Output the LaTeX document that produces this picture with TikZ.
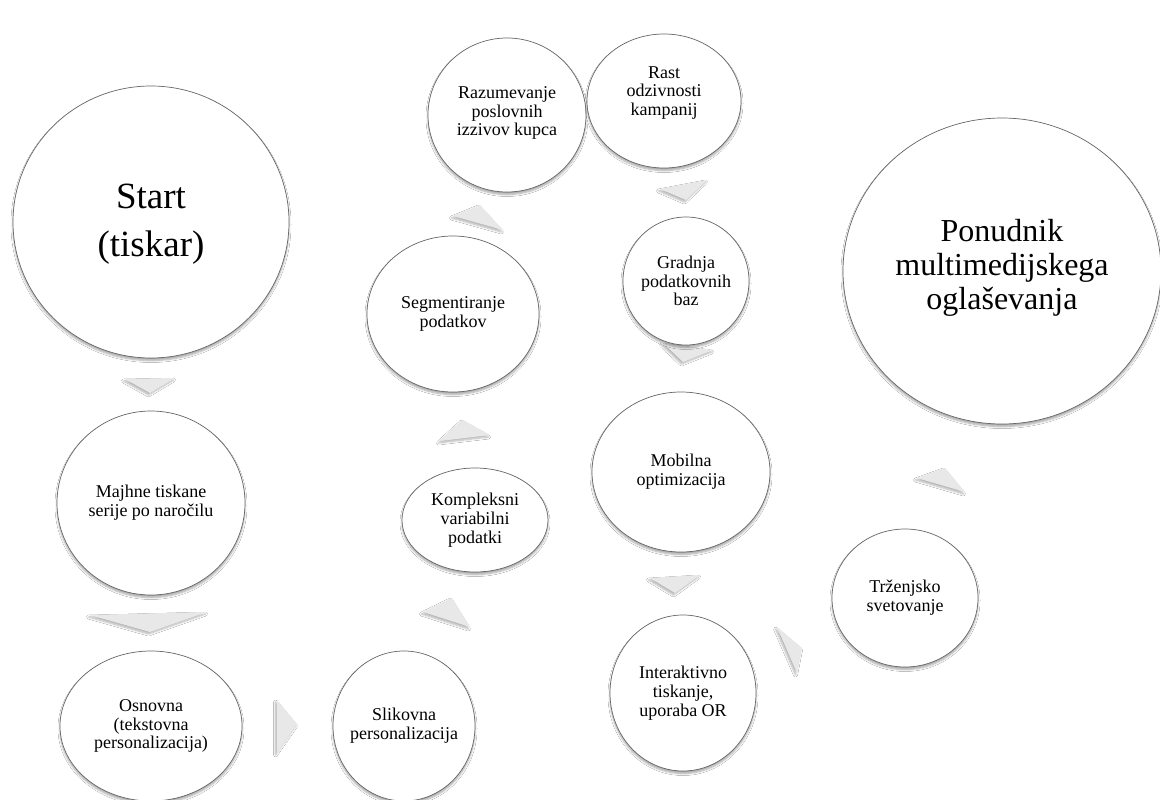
\documentclass[tikz,border=0pt]{standalone}
\usepackage{fontspec}
\setmainfont{Liberation Serif}
\newfontfamily\tnr{Liberation Serif}
\usetikzlibrary{shapes.geometric,shadows.blur}
\begin{document}
\begin{tikzpicture}[x=1pt,y=-1pt,
  bub/.style={ellipse, draw=black!60, line width=0.7pt, fill=white, inner sep=0pt,
    blur shadow={shadow xshift=0pt,shadow yshift=-2.5pt,shadow blur radius=2pt,shadow blur steps=6,shadow opacity=35}},
  txt/.style={align=center, inner sep=0pt, font=\tnr\fontsize{18}{18.8}\selectfont},
  bigtxt/.style={align=center, inner sep=0pt},
  tri/.style={fill=black!9, draw=none,
    blur shadow={shadow xshift=-1.5pt,shadow yshift=-2pt,shadow blur radius=2pt,shadow blur steps=6,shadow opacity=30}}]
\useasboundingbox (0,0) rectangle (1160,800);
\fill[white] (0,0) rectangle (1160,800);

% connectors (triangular arrows)
\fill[tri] (125,379) -- (175,378) -- (150,393) -- cycle;
\fill[tri] (90,615) -- (207,612) -- (150,632) -- cycle;
\fill[tri] (277,700) -- (297,724) -- (277,753) -- cycle;
\fill[tri] (423,612) -- (452,598) -- (470,627) -- cycle;
\fill[tri] (440,441) -- (463,420) -- (490,435) -- cycle;
\fill[tri] (453,216) -- (480,205) -- (503,230) -- cycle;
\fill[tri] (660,189) -- (707,180) -- (686,200) -- cycle;
\fill[tri] (663,343) -- (713,350) -- (683,362) -- cycle;
\fill[tri] (650,578) -- (700,575) -- (675,593) -- cycle;
\fill[tri] (777,627) -- (802,648) -- (797,673) -- cycle;
\fill[tri] (917,478) -- (945,468) -- (965,492) -- cycle;

% bubbles
\node[bub, minimum width=276, minimum height=272] (start) at (151,222) {};
\node[bub, minimum width=188, minimum height=184] (majhne) at (151,503) {};
\node[bub, minimum width=182, minimum height=150] (osnovna) at (151,726) {};
\node[bub, minimum width=142, minimum height=150] (slik) at (404,726) {};
\node[bub, minimum width=146, minimum height=104] (kompl) at (475,520) {};
\node[bub, minimum width=172, minimum height=156] (segm) at (453,314) {};
\node[bub, minimum width=158, minimum height=154] (razum) at (507,115) {};
\node[bub, minimum width=154, minimum height=134] (rast) at (664,101) {};
\node[bub, minimum width=126, minimum height=128] (gradnja) at (686,281) {};
\node[bub, minimum width=178, minimum height=160] (mobilna) at (681,472) {};
\node[bub, minimum width=146, minimum height=156] (inter) at (683,693) {};
\node[bub, minimum width=146, minimum height=138] (trzenje) at (905,598) {};
\node[bub, minimum width=318, minimum height=306] (ponud) at (1002,271) {};

% texts
\node[bigtxt, font=\tnr\fontsize{37}{48}\selectfont] (startT) at ([yshift=-2pt]start.center) {Start\\(tiskar)};
\node[txt] (majhneT) at (majhne.center) {Majhne tiskane\\serije po naročilu};
\node[txt] (osnovnaT) at (osnovna.center) {Osnovna\\(tekstovna\\personalizacija)};
\node[txt] (slikT) at (slik.center) {Slikovna\\personalizacija};
\node[txt] (komplT) at (kompl.center) {Kompleksni\\variabilni\\podatki};
\node[txt] (segmT) at (segm.center) {Segmentiranje\\podatkov};
\node[txt] (razumT) at ([yshift=2pt]razum.center) {Razumevanje\\poslovnih\\izzivov kupca};
\node[txt] (rastT) at ([yshift=8pt]rast.center) {Rast\\odzivnosti\\kampanij};
\node[txt] (gradnjaT) at (gradnja.center) {Gradnja\\podatkovnih\\baz};
\node[txt] (mobilnaT) at (mobilna.center) {Mobilna\\optimizacija};
\node[txt] (interT) at (inter.center) {Interaktivno\\tiskanje,\\uporaba OR};
\node[txt] (trzenjeT) at (trzenje.center) {Trženjsko\\svetovanje};
\node[bigtxt, font=\tnr\fontsize{32}{34}\selectfont] (ponudT) at ([yshift=3pt]ponud.center) {Ponudnik\\multimedijskega\\oglaševanja};
\end{tikzpicture}
\end{document}
